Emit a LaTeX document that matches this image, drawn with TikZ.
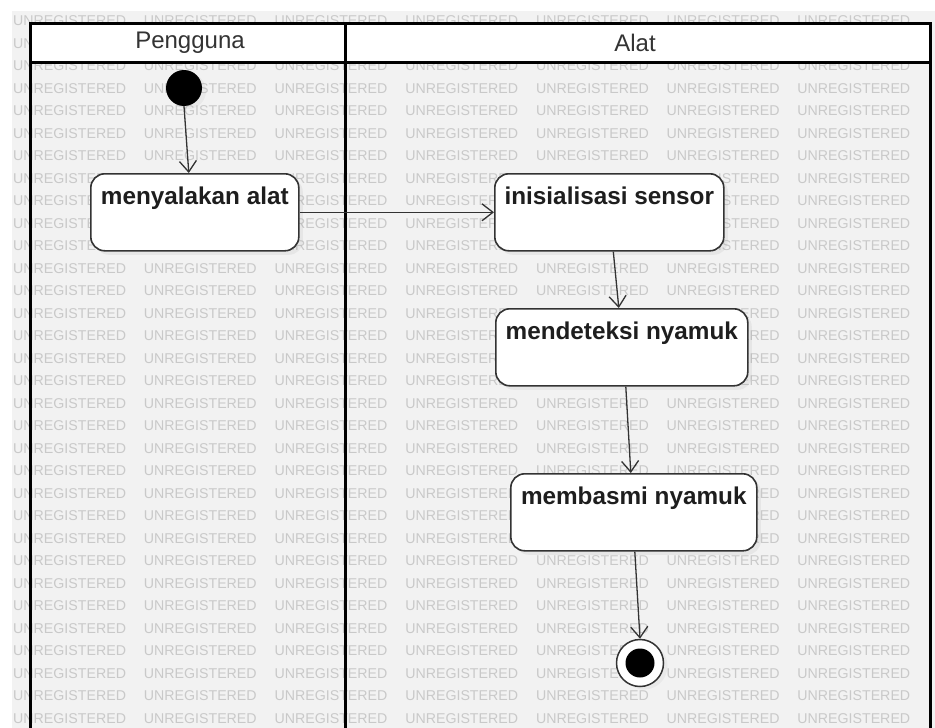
\documentclass[tikz,border=0pt]{standalone}
\usepackage{fontspec}
\setmainfont{Liberation Sans}
\usetikzlibrary{arrows.meta,calc,shadows}
\definecolor{wmbg}{HTML}{F2F2F2}
\definecolor{wmtext}{HTML}{C9C9C9}
\definecolor{boxline}{HTML}{333333}
\definecolor{txt}{HTML}{1E1E1E}
\begin{document}
\begin{tikzpicture}[x=1pt,y=-1pt,
  actbox/.style={draw=boxline,line width=1.6pt,fill=white,rounded corners=14pt,inner sep=0pt,
    text height=31pt,text depth=46pt,anchor=north west,
    font=\fontsize{24.3}{25}\selectfont\bfseries,text=txt,
    drop shadow={opacity=0.10,shadow xshift=4pt,shadow yshift=-4pt}},
  flow/.style={draw=boxline,line width=1.3pt,-{Straight Barb[length=11pt,width=17pt,line width=1.3pt]}},
  lane/.style={line width=3pt,draw=black,line join=miter},
  lanetitle/.style={font=\fontsize{24}{25}\selectfont,text=black!80},
  wm/.style={font=\fontsize{14.2}{14.2}\selectfont,text=wmtext,inner sep=0pt,anchor=west}]
\useasboundingbox (0,0) rectangle (935,728);
% watermark background
\begin{scope}
  \clip (12,11) rectangle (935,728);
  \fill[wmbg] (12,11) rectangle (935,728);
  \foreach \r in {0,...,31}{
    \foreach \c in {0,...,6}{
      \node[wm] (wm-\r-\c) at ({13+130.7*\c},{20.8+22.5*\r}) {UNREGISTERED};
    }
  }
\end{scope}
% swimlanes
\fill[white] (30,23) rectangle (930,62);
\draw[lane] (30,728) -- (30,23) -- (930,23) -- (930,728);
\draw[lane] (30,62) -- (930,62);
\draw[lane] (345,23) -- (345,728);
\node[lanetitle] (lane1) at (190,42.5) {Pengguna};
\node[lanetitle] (lane2) at (635,42.5) {Alat};
% nodes
\node[circle,fill=black,minimum size=36pt,inner sep=0pt,
  drop shadow={opacity=0.08,shadow xshift=4pt,shadow yshift=-3pt}] (start) at (184,88) {};
\node[actbox,minimum width=208pt] (m1) at (90,173) {menyalakan alat};
\node[actbox,minimum width=229pt] (m2) at (494,173) {inisialisasi sensor};
\node[actbox,minimum width=252pt] (m3) at (495,308) {mendeteksi nyamuk};
\node[actbox,minimum width=246pt] (m4) at (510,473) {membasmi nyamuk};
\node[circle,draw=boxline,line width=1.5pt,fill=white,minimum size=47pt,inner sep=0pt,
  drop shadow={opacity=0.08,shadow xshift=4pt,shadow yshift=-3pt}] (end) at (640,663) {};
\node[circle,fill=black,minimum size=29pt,inner sep=0pt] (endin) at (end.center) {};
% flows
\draw[flow] (start.south) -- ($(m1.north)+(-6,0)$);
\draw[flow] (m1.east) -- (m2.west);
\draw[flow] ($(m2.south)+(4,0)$) -- ($(m3.north)+(-3,0)$);
\draw[flow] ($(m3.south)+(4,0)$) -- ($(m4.north)+(-3,0)$);
\draw[flow] ($(m4.south)+(1,0)$) -- (end.north);
\end{tikzpicture}
\end{document}
